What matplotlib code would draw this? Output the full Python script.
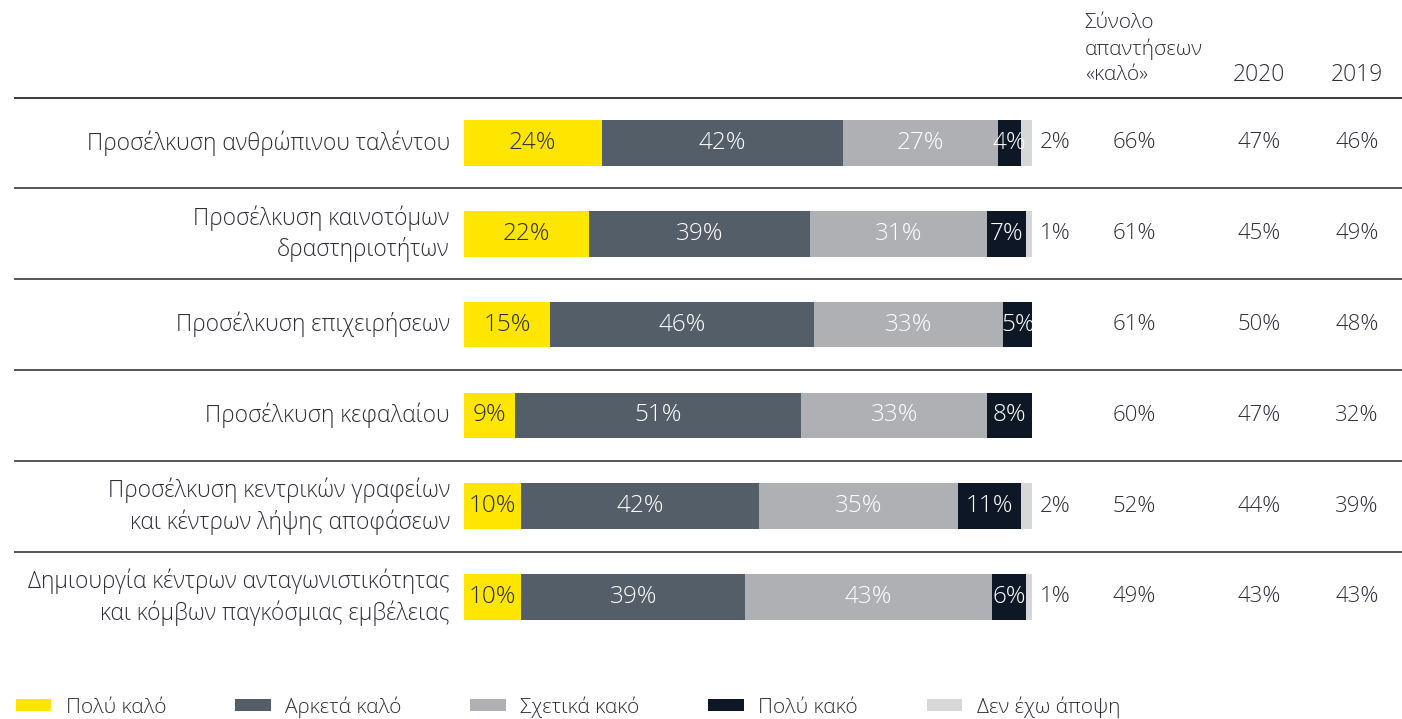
import matplotlib.pyplot as plt
from matplotlib.patches import Patch
from matplotlib.transforms import blended_transform_factory
import numpy as np

plt.rcParams['font.family'] = ['Open Sans', 'DejaVu Sans']
plt.rcParams['font.weight'] = 'light'

categories = [
    'Προσέλκυση ανθρώπινου ταλέντου',
    'Προσέλκυση καινοτόμων\nδραστηριοτήτων',
    'Προσέλκυση επιχειρήσεων',
    'Προσέλκυση κεφαλαίου',
    'Προσέλκυση κεντρικών γραφείων\nκαι κέντρων λήψης αποφάσεων',
    'Δημιουργία κέντρων ανταγωνιστικότητας\nκαι κόμβων παγκόσμιας εμβέλειας',
]
series_names = ['Πολύ καλό', 'Αρκετά καλό', 'Σχετικά κακό', 'Πολύ κακό', 'Δεν έχω άποψη']
very_good = [24, 22, 15, 9, 10, 10]
fairly_good = [42, 39, 46, 51, 42, 39]
fairly_bad = [27, 31, 33, 33, 35, 43]
very_bad = [4, 7, 5, 8, 11, 6]
no_opinion = [2, 1, 0, 0, 2, 1]
total_good = [66, 61, 61, 60, 52, 49]
y2020 = [47, 45, 50, 47, 44, 43]
y2019 = [46, 49, 48, 32, 39, 43]

colors = ['#FFE600', '#545E69', '#AEB0B3', '#0E1726', '#D6D7D9']
label_colors = ['#2E2E38', 'white', 'white', 'white', None]
txt = '#2E2E38'
fs = 16
fs_bar = 17.5
fs_lab = 16.4

W, H = 1402, 719
fig = plt.figure(figsize=(W / 100, H / 100), dpi=100)
ax = fig.add_axes([464 / W, 1 - 642.4 / H, 568 / W, (642.4 - 97.6) / H])

series = np.array([very_good, fairly_good, fairly_bad, very_bad, no_opinion], dtype=float)
shares = series / series.sum(axis=0) * 100
ypos = np.arange(len(categories))

left = np.zeros(len(categories))
for k in range(len(series)):
    ax.barh(ypos, shares[k], left=left, height=0.5, color=colors[k], linewidth=0)
    if label_colors[k]:
        for i in range(len(categories)):
            if series[k, i] > 0:
                ax.text(left[i] + shares[k, i] / 2, ypos[i], f'{int(series[k, i])}%',
                        ha='center', va='center', fontsize=fs_bar, color=label_colors[k])
    left += shares[k]

ax.set_xlim(0, 100)
ax.set_ylim(len(categories) - 0.5, -0.5)
ax.axis('off')

for i in range(len(categories)):
    if no_opinion[i] > 0:
        ax.text(101.4, i, f'{no_opinion[i]}%', ha='left', va='center', fontsize=fs, color=txt, clip_on=False)
    ax.text(118, i, f'{total_good[i]}%', ha='center', va='center', fontsize=fs, color=txt, clip_on=False)
    ax.text(140, i, f'{y2020[i]}%', ha='center', va='center', fontsize=fs, color=txt, clip_on=False)
    ax.text(157.2, i, f'{y2019[i]}%', ha='center', va='center', fontsize=fs, color=txt, clip_on=False)
    ax.text(-2.5, i, categories[i], ha='right', va='center', multialignment='right',
            fontsize=fs_lab, color=txt, clip_on=False, linespacing=1.35)

# header
ax.text(109.3, -1.035, 'Σύνολο\nαπαντήσεων\n«καλό»', ha='left', va='center', fontsize=15,
        color=txt, clip_on=False, linespacing=1.35)
ax.text(140, -0.745, '2020', ha='center', va='center', fontsize=16.5, color=txt, clip_on=False)
ax.text(157.2, -0.745, '2019', ha='center', va='center', fontsize=16.5, color=txt, clip_on=False)

# separators
tr = blended_transform_factory(fig.transFigure, ax.transData)
for j in range(len(categories)):
    y = j - 0.5
    ax.plot([15 / W, 1], [y, y], transform=tr, color='#3A3A3A' if j == 0 else '#555555',
            lw=1.4, clip_on=False)

handles = [Patch(facecolor=c, edgecolor='none') for c in colors]
fig.legend(handles, series_names, loc='lower left', bbox_to_anchor=(-0.002, -0.024),
           ncol=5, frameon=False, fontsize=15, handlelength=1.7, handleheight=0.55,
           handletextpad=0.7, columnspacing=3.3, labelcolor=txt)

fig.savefig('out.png', dpi=100)
